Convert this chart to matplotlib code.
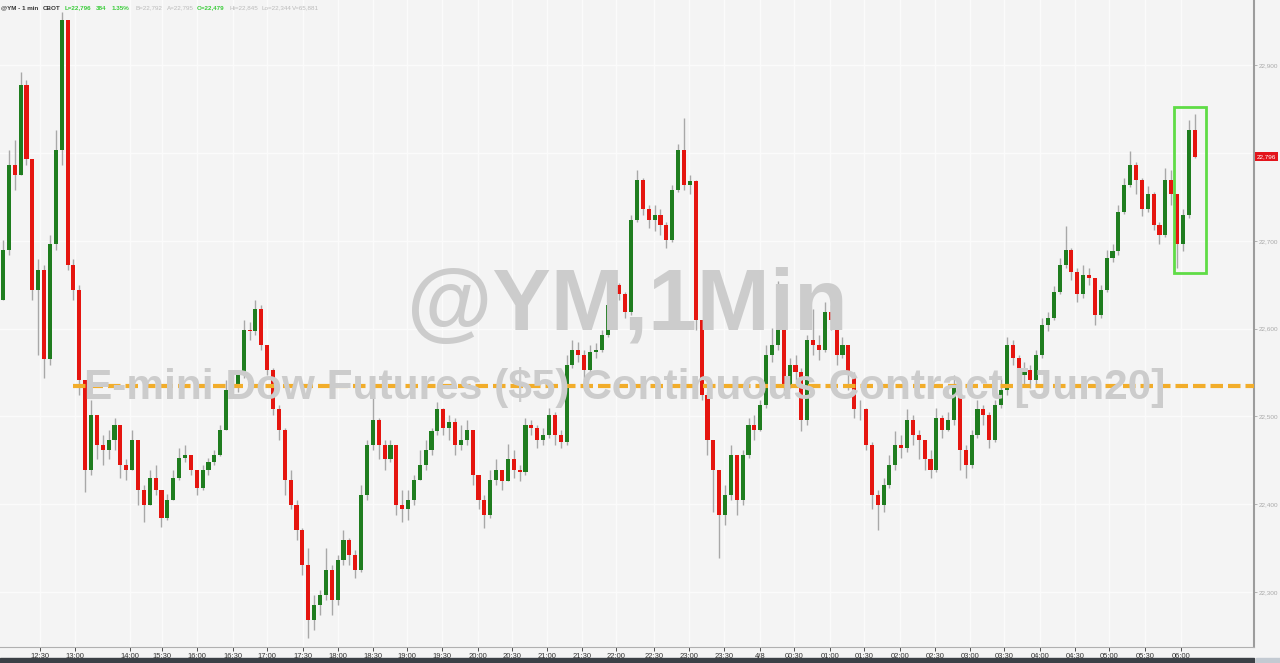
import matplotlib.pyplot as plt
from matplotlib.patches import Rectangle
from matplotlib.transforms import blended_transform_factory

# YM 5-min candles
first_open = 22633
closes = [22690, 22787, 22775, 22878, 22793, 22644, 22667, 22565, 22696, 22804,
          22952, 22673, 22644, 22542, 22439, 22502, 22468, 22462, 22473, 22490,
          22445, 22439, 22473, 22416, 22399, 22430, 22416, 22384, 22405, 22430,
          22453, 22456, 22439, 22419, 22439, 22448, 22456, 22485, 22530, 22536,
          22547, 22599, 22597, 22622, 22582, 22553, 22508, 22485, 22428, 22399,
          22371, 22331, 22268, 22285, 22297, 22325, 22291, 22337, 22359, 22342,
          22325, 22411, 22468, 22496, 22468, 22451, 22468, 22399, 22394, 22405,
          22428, 22445, 22462, 22483, 22508, 22487, 22494, 22468, 22473, 22485,
          22433, 22405, 22388, 22428, 22439, 22426, 22451, 22439, 22437, 22490,
          22487, 22473, 22479, 22502, 22479, 22471, 22559, 22576, 22570, 22553,
          22574, 22576, 22593, 22627, 22650, 22639, 22619, 22724, 22770, 22736,
          22724, 22730, 22718, 22701, 22758, 22804, 22764, 22768, 22610, 22525,
          22473, 22439, 22388, 22411, 22456, 22405, 22456, 22490, 22485, 22513,
          22570, 22582, 22616, 22536, 22559, 22551, 22496, 22587, 22582, 22576,
          22619, 22610, 22570, 22582, 22547, 22508, 22508, 22468, 22411, 22399,
          22422, 22445, 22468, 22464, 22496, 22479, 22473, 22451, 22439, 22498,
          22485, 22496, 22536, 22462, 22445, 22479, 22508, 22502, 22473, 22513,
          22530, 22582, 22567, 22547, 22553, 22542, 22570, 22604, 22612, 22642,
          22673, 22690, 22665, 22639, 22661, 22658, 22616, 22644, 22681, 22688,
          22733, 22764, 22787, 22770, 22736, 22753, 22718, 22707, 22770, 22753,
          22696, 22730, 22827, 22796]
highs = [22701, 22804, 22815, 22893, 22884, 22775, 22679, 22673, 22707, 22827,
         22961, 22952, 22679, 22650, 22542, 22519, 22502, 22479, 22485, 22498,
         22490, 22451, 22485, 22473, 22422, 22439, 22445, 22416, 22412, 22439,
         22464, 22468, 22456, 22439, 22445, 22453, 22462, 22490, 22542, 22547,
         22553, 22610, 22608, 22633, 22627, 22582, 22555, 22513, 22487, 22439,
         22405, 22373, 22350, 22297, 22302, 22350, 22331, 22342, 22371, 22362,
         22348, 22422, 22473, 22521, 22498, 22473, 22473, 22468, 22416, 22416,
         22433, 22462, 22473, 22487, 22516, 22510, 22502, 22498, 22490, 22496,
         22485, 22433, 22411, 22439, 22451, 22439, 22469, 22462, 22445, 22498,
         22496, 22490, 22487, 22510, 22505, 22485, 22570, 22587, 22585, 22576,
         22582, 22584, 22599, 22635, 22658, 22652, 22642, 22730, 22781, 22772,
         22741, 22741, 22736, 22722, 22764, 22810, 22840, 22775, 22770, 22610,
         22528, 22473, 22439, 22422, 22468, 22456, 22462, 22498, 22502, 22519,
         22582, 22601, 22654, 22619, 22567, 22570, 22555, 22593, 22622, 22593,
         22631, 22627, 22612, 22590, 22582, 22551, 22519, 22510, 22471, 22416,
         22430, 22456, 22483, 22479, 22508, 22502, 22485, 22473, 22462, 22510,
         22502, 22505, 22547, 22536, 22468, 22485, 22519, 22513, 22505, 22519,
         22544, 22590, 22587, 22570, 22562, 22559, 22576, 22612, 22619, 22649,
         22681, 22717, 22692, 22669, 22673, 22669, 22658, 22650, 22690, 22696,
         22741, 22772, 22802, 22790, 22772, 22763, 22756, 22722, 22783, 22781,
         22753, 22736, 22838, 22845]
lows = [22633, 22684, 22758, 22775, 22787, 22633, 22570, 22544, 22559, 22690,
        22787, 22667, 22633, 22525, 22414, 22433, 22451, 22445, 22451, 22462,
        22430, 22428, 22439, 22399, 22380, 22399, 22411, 22374, 22382, 22405,
        22428, 22448, 22433, 22411, 22416, 22433, 22445, 22455, 22485, 22525,
        22528, 22544, 22587, 22593, 22576, 22547, 22502, 22473, 22411, 22394,
        22359, 22319, 22248, 22257, 22274, 22291, 22274, 22285, 22331, 22331,
        22316, 22323, 22405, 22462, 22451, 22439, 22448, 22388, 22380, 22382,
        22399, 22428, 22439, 22456, 22479, 22479, 22473, 22456, 22462, 22468,
        22422, 22394, 22373, 22384, 22422, 22416, 22428, 22430, 22426, 22433,
        22479, 22464, 22468, 22476, 22468, 22464, 22468, 22555, 22562, 22542,
        22551, 22567, 22574, 22590, 22624, 22633, 22612, 22616, 22722, 22730,
        22715, 22711, 22707, 22692, 22699, 22756, 22758, 22753, 22599, 22519,
        22456, 22391, 22339, 22376, 22405, 22388, 22399, 22453, 22473, 22483,
        22510, 22562, 22576, 22525, 22533, 22542, 22483, 22490, 22570, 22564,
        22574, 22599, 22559, 22567, 22530, 22498, 22496, 22462, 22394, 22371,
        22391, 22419, 22439, 22453, 22460, 22468, 22451, 22439, 22430, 22437,
        22476, 22483, 22490, 22439, 22430, 22441, 22476, 22490, 22464, 22471,
        22510, 22525, 22559, 22536, 22536, 22533, 22536, 22567, 22597, 22610,
        22639, 22669, 22656, 22631, 22635, 22650, 22604, 22612, 22642, 22676,
        22684, 22731, 22761, 22753, 22729, 22733, 22713, 22696, 22704, 22741,
        22669, 22688, 22726, 22795]

tick_labels = ['12:30', '13:00', '14:00', '15:30', '16:00', '16:30', '17:00', '17:30',
               '18:00', '18:30', '19:00', '19:30', '20:00', '20:30', '21:00', '21:30',
               '22:00', '22:30', '23:00', '23:30', '4/8', '00:30', '01:00', '01:30',
               '02:00', '02:30', '03:00', '03:30', '04:00', '04:30', '05:00', '05:30', '06:00']
tick_pos = [6.3, 12.3, 21.6, 27.1, 33.0, 39.2, 45.0, 51.1, 57.1, 63.0, 68.8, 74.8,
            80.9, 86.7, 92.7, 98.6, 104.4, 110.9, 116.9, 122.8, 129.0, 134.8, 140.9,
            146.7, 152.8, 158.8, 164.7, 170.5, 176.7, 182.6, 188.4, 194.5, 200.7]
price_ticks = [22300, 22400, 22500, 22600, 22700, 22800, 22900]

level = 22535
level_start = 12
last_price = 22796
box_bars = (199.5, 204.9)
box_prices = (22663, 22853)

header = [('@YM - 1 min', '#333333', 'bold', 1), ('CBOT', '#333333', 'bold', 43),
          ('L=22,796', '#3acc3a', 'bold', 65), ('384', '#3acc3a', 'bold', 96),
          ('1.35%', '#3acc3a', 'bold', 112), ('B=22,792', '#bbbbbb', 'normal', 136),
          ('A=22,795', '#bbbbbb', 'normal', 167), ('O=22,479', '#3acc3a', 'bold', 197),
          ('Hi=22,845', '#bbbbbb', 'normal', 229), ('Lo=22,344', '#bbbbbb', 'normal', 261),
          ('V=65,881', '#bbbbbb', 'normal', 292)]

plt.rcParams['font.family'] = ['Liberation Sans', 'DejaVu Sans']

W, H = 1280, 663
fig = plt.figure(figsize=(W / 100, H / 100), dpi=100)
fig.patch.set_facecolor('#f4f4f4')
ax = fig.add_axes([0, 16 / H, 1254 / W, 647 / H])
ax.set_facecolor('#f4f4f4')

# watermark
fig.text(627 / W, 1 - 330 / H, '@YM,1Min', fontsize=63, fontweight='bold',
         color='#cccccc', ha='center', va='baseline', zorder=0)
fig.text(625 / W, 1 - 399 / H, 'E-mini Dow Futures ($5) Continuous Contract [Jun20]',
         fontsize=30.5, fontweight='bold', color='#cccccc', ha='center', va='baseline', zorder=0)
ax.patch.set_alpha(0)

opens = [first_open] + closes[:-1]
x = list(range(len(closes)))
green, red = '#1f7d1f', '#e5150f'
colors = [green if c >= o else red for o, c in zip(opens, closes)]
lo = [min(l, o, c) for l, o, c in zip(lows, opens, closes)]
hi = [max(h, o, c) for h, o, c in zip(highs, opens, closes)]
ax.vlines(x, lo, hi, color='#a8a8a8', lw=1.0, zorder=2)
ax.bar(x, [c - o for o, c in zip(opens, closes)], bottom=opens, width=0.7,
       color=colors, zorder=3)

ax.plot([level_start, 214], [level, level], color='#f2ad2a', lw=3, dashes=(3, 1.2), zorder=4)
ax.add_patch(Rectangle((box_bars[0], box_prices[0]), box_bars[1] - box_bars[0],
                       box_prices[1] - box_prices[0], fill=False, ec='#5fdc46', lw=2, zorder=5))

ax.set_xlim(-0.51, 213.1)
ax.set_ylim(22237.3, 22974.6)

ax.set_xticks(tick_pos)
ax.set_xticklabels(tick_labels)
ax.set_yticks(price_ticks)
ax.set_yticklabels([f'{p:,}' for p in price_ticks])
ax.yaxis.tick_right()
ax.tick_params(axis='x', labelsize=5.5, colors='#333333', length=3, pad=1, width=0.6)
ax.tick_params(axis='y', labelsize=4.6, colors='#aaaaaa', length=2, pad=1.5, width=0.6)
ax.grid(True, color='#fbfbfb', lw=1)
ax.set_axisbelow(True)
for s in ['top', 'left']:
    ax.spines[s].set_visible(False)
ax.spines['right'].set_color('#9c9c9c')
ax.spines['right'].set_linewidth(1.5)
ax.spines['bottom'].set_color('#b0b0b0')
ax.spines['bottom'].set_linewidth(0.8)

tr = blended_transform_factory(ax.transAxes, ax.transData)
ax.text(1.002, last_price, f'{last_price:,}', transform=tr, fontsize=4.6, color='white',
        va='center', ha='left', zorder=6, clip_on=False,
        bbox=dict(boxstyle='square,pad=0.3', fc='#e3141b', ec='none'))

for txt, col, wt, xp in header:
    fig.text(xp / W, 1 - 8 / H, txt, fontsize=4.5, color=col, fontweight=wt, va='center', ha='left')

fig.add_artist(Rectangle((0, 0), 1254 / W, 5 / H, transform=fig.transFigure,
                         color='#3b4046', zorder=0))
fig.add_artist(Rectangle((1256 / W, 0), 24 / W, 5 / H, transform=fig.transFigure,
                         color='#c3cad2', zorder=0))

fig.savefig('out.png', dpi=100, facecolor=fig.get_facecolor())
